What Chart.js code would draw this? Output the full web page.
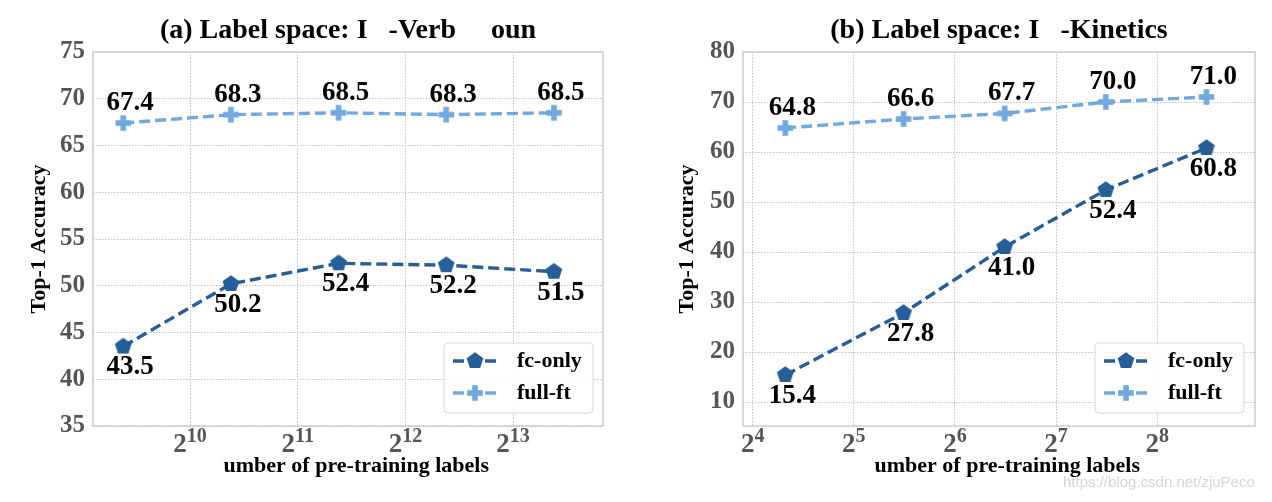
<!DOCTYPE html>
<html>
<head>
<meta charset="utf-8">
<script src="https://cdn.jsdelivr.net/npm/chart.js@4/dist/chart.umd.min.js"></script>
<style>
  html, body { margin: 0; padding: 0; background: #fff; }
  #wrap { position: relative; width: 1272px; height: 502px; }
  canvas { position: absolute; top: 0; }
  #c1 { left: 0; }
  #c2 { left: 636px; }
  .mark { position: absolute; left: 1063px; top: 473px; font: 15px "Liberation Sans", Arial, sans-serif; color: #d6d6d6; white-space: nowrap; }
</style>
</head>
<body>
<div id="wrap">
  <canvas id="c1" width="636" height="502"></canvas>
  <canvas id="c2" width="636" height="502"></canvas>
  <div class="mark">https://blog.csdn.net/zjuPeco</div>
</div>
<script>
// series names
const seriesNames = ['fc-only', 'full-ft'];

// (a) IG-Verb+Noun
const verbNounLabels = [666, 1332, 2663, 5327, 10653];
const verbNounFcOnly = [43.5, 50.2, 52.4, 52.2, 51.5];
const verbNounFullFt = [67.4, 68.3, 68.5, 68.3, 68.5];
const verbNounXTicks = [10, 11, 12, 13];          // exponents of 2
const verbNounYTicks = [35, 40, 45, 50, 55, 60, 65, 70, 75];

// (b) IG-Kinetics
const kineticsLabels = [20, 45, 90, 180, 359];
const kineticsFcOnly = [15.4, 27.8, 41.0, 52.4, 60.8];
const kineticsFullFt = [64.8, 66.6, 67.7, 70.0, 71.0];
const kineticsXTicks = [4, 5, 6, 7, 8];
const kineticsYTicks = [10, 20, 30, 40, 50, 60, 70, 80];

const FONT = "'Liberation Serif', 'Times New Roman', serif";
const DARK = '#255e98';
const LIGHT = '#70a9df';
const TICK_GREY = '#555555';

function makePentagon(color) {
  const r = 8.8, s = 20;
  const c = document.createElement('canvas');
  c.width = s; c.height = s;
  const g = c.getContext('2d');
  g.fillStyle = color;
  g.beginPath();
  for (let k = 0; k < 5; k++) {
    const a = -Math.PI / 2 + k * 2 * Math.PI / 5;
    const x = s / 2 + r * Math.cos(a), y = s / 2 + r * Math.sin(a);
    if (k) g.lineTo(x, y); else g.moveTo(x, y);
  }
  g.closePath();
  g.fill();
  return c;
}

function makePlus(color) {
  const h = 7.8, w = 2.8, s = 18;
  const c = document.createElement('canvas');
  c.width = s; c.height = s;
  const g = c.getContext('2d');
  g.fillStyle = color;
  g.fillRect(s / 2 - h, s / 2 - w, 2 * h, 2 * w);
  g.fillRect(s / 2 - w, s / 2 - h, 2 * w, 2 * h);
  return c;
}

const pentagon = makePentagon(DARK);
const plus = makePlus(LIGHT);

// frame, value labels, legend and 2^n tick labels
const extras = {
  id: 'extras',
  beforeDatasetsDraw(chart) {
    const { ctx, chartArea: a } = chart;
    ctx.save();
    ctx.strokeStyle = '#cccccc';
    ctx.lineWidth = 1.5;
    ctx.strokeRect(a.left, a.top, a.right - a.left, a.bottom - a.top);
    ctx.restore();
  },
  afterDatasetsDraw(chart, args, opts) {
    const { ctx, chartArea: a } = chart;
    ctx.save();
    ctx.font = `bold 27px ${FONT}`;
    ctx.fillStyle = '#000';
    ctx.textAlign = 'center';
    ctx.textBaseline = 'middle';
    chart.data.datasets.forEach((ds, i) => {
      chart.getDatasetMeta(i).data.forEach((pt, j) => {
        ctx.fillText(ds.data[j].y.toFixed(1), pt.x + 7, pt.y + opts.labelShift[i]);
      });
    });

    // legend
    const w = 149, h = 70;
    const x0 = a.right - opts.legendRight - w, y0 = a.bottom - 13 - h;
    ctx.beginPath();
    ctx.roundRect(x0, y0, w, h, 4);
    ctx.fillStyle = 'rgba(255,255,255,0.85)';
    ctx.fill();
    ctx.strokeStyle = '#d8d8d8';
    ctx.lineWidth = 1;
    ctx.stroke();
    chart.data.datasets.forEach((ds, i) => {
      const y = y0 + 18 + i * 32;
      ctx.strokeStyle = ds.borderColor;
      ctx.lineWidth = ds.borderWidth;
      ctx.setLineDash(ds.borderDash);
      ctx.beginPath();
      ctx.moveTo(x0 + 9, y);
      ctx.lineTo(x0 + 54, y);
      ctx.stroke();
      ctx.setLineDash([]);
      const img = ds.pointStyle;
      ctx.drawImage(img, x0 + 31 - img.width / 2, y - img.height / 2);
      ctx.fillStyle = '#000';
      ctx.font = `bold 22px ${FONT}`;
      ctx.textAlign = 'left';
      ctx.fillText(ds.label, x0 + 73, y);
    });
    ctx.restore();
  },
  afterDraw(chart, args, opts) {
    const { ctx, chartArea: a } = chart;
    const xs = chart.scales.x;
    ctx.save();
    ctx.fillStyle = TICK_GREY;
    ctx.textBaseline = 'alphabetic';
    ctx.textAlign = 'left';
    opts.xTicks.forEach(e => {
      const px = xs.getPixelForValue(Math.pow(2, e));
      ctx.font = `bold 27px ${FONT}`;
      const wb = ctx.measureText('2').width;
      ctx.font = `bold 20px ${FONT}`;
      const we = ctx.measureText(String(e)).width;
      const left = px - (wb + we) / 2;
      ctx.font = `bold 27px ${FONT}`;
      ctx.fillText('2', left, a.bottom + 26);
      ctx.font = `bold 20px ${FONT}`;
      ctx.fillText(String(e), left + wb, a.bottom + 16);
    });
    ctx.restore();
  }
};

function series(xs, ys) {
  return ys.map((v, i) => ({ x: xs[i], y: v }));
}

function makeChart(id, c) {
  const gridOpts = { color: '#c2c2c2', lineWidth: 1, drawTicks: false };
  const borderOpts = { display: false, dash: [1.5, 1.5] };
  return new Chart(document.getElementById(id), {
    type: 'line',
    data: {
      datasets: [
        {
          label: seriesNames[0],
          data: series(c.xs, c.fc),
          borderColor: DARK,
          backgroundColor: DARK,
          borderWidth: 3.4,
          borderDash: [11, 5],
          pointStyle: pentagon,
          pointRadius: 8,
          tension: 0,
        },
        {
          label: seriesNames[1],
          data: series(c.xs, c.ft),
          borderColor: LIGHT,
          backgroundColor: LIGHT,
          borderWidth: 3.4,
          borderDash: [11, 5],
          pointStyle: plus,
          pointRadius: 8,
          tension: 0,
        },
      ],
    },
    options: {
      responsive: false,
      animation: false,
      devicePixelRatio: 1,
      layout: { padding: { left: 0, right: c.padRight, top: 0, bottom: 0 } },
      plugins: {
        legend: { display: false },
        tooltip: { enabled: false },
        title: {
          display: true,
          fullSize: false,
          text: c.title,
          color: '#000',
          font: { family: FONT, size: 28, weight: 'bold', lineHeight: 1.2 },
          padding: { top: 14, bottom: 4.4 },
        },
        extras: { labelShift: c.labelShift, legendRight: c.legendRight, xTicks: c.xTicks },
      },
      scales: {
        x: {
          type: 'logarithmic',
          min: Math.pow(2, c.xRange[0]),
          max: Math.pow(2, c.xRange[1]),
          afterBuildTicks: s => { s.ticks = c.xTicks.map(e => ({ value: Math.pow(2, e) })); },
          afterFit: s => { s.height = 76; },
          ticks: { display: false },
          grid: gridOpts,
          border: borderOpts,
          title: {
            display: true,
            text: '   umber of pre-training labels',
            color: '#000',
            font: { family: FONT, size: 22, weight: 'bold', lineHeight: 1.2 },
            padding: { top: 0, bottom: 22.8 },
          },
        },
        y: {
          type: 'linear',
          min: c.yRange[0],
          max: c.yRange[1],
          afterBuildTicks: s => { s.ticks = c.yTicks.map(v => ({ value: v })); },
          afterFit: s => { s.width = c.yAxisW; },
          ticks: {
            color: TICK_GREY,
            padding: 8,
            font: { family: FONT, size: 25, weight: 'bold' },
          },
          grid: gridOpts,
          border: borderOpts,
          title: {
            display: true,
            text: 'Top-1 Accuracy',
            color: '#000',
            font: { family: FONT, size: 22, weight: 'bold', lineHeight: 1.2 },
            padding: { top: c.yTitlePad, bottom: 0 },
          },
        },
      },
    },
    plugins: [extras],
  });
}

makeChart('c1', {
  title: '(a) Label space: I   -Verb     oun',
  xs: verbNounLabels, fc: verbNounFcOnly, ft: verbNounFullFt,
  xTicks: verbNounXTicks, yTicks: verbNounYTicks,
  xRange: [9.099, 13.835], yRange: [35, 75],
  yAxisW: 93, padRight: 33, yTitlePad: 26,
  labelShift: [21, -20], legendRight: 10,
});

makeChart('c2', {
  title: '(b) Label space: I   -Kinetics',
  xs: kineticsLabels, fc: kineticsFcOnly, ft: kineticsFullFt,
  xTicks: kineticsXTicks, yTicks: kineticsYTicks,
  xRange: [3.904, 8.968], yRange: [5.2, 80],
  yAxisW: 107, padRight: 17, yTitlePad: 38,
  labelShift: [21, -20], legendRight: 11,
});
</script>
</body>
</html>
